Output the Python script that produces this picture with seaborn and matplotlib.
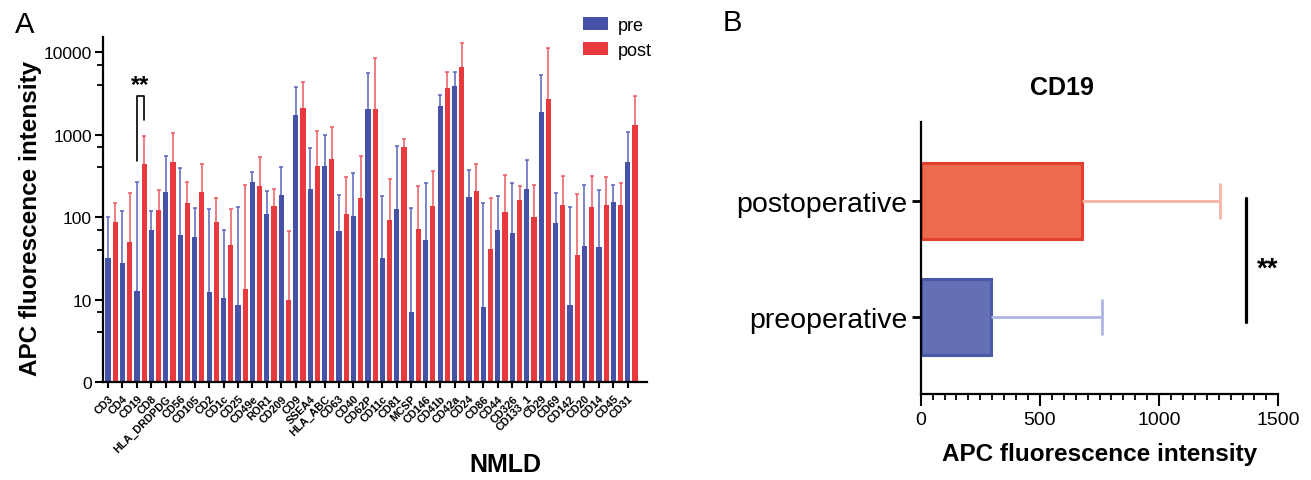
import numpy as np
import pandas as pd
import matplotlib
matplotlib.use("Agg")
import matplotlib.pyplot as plt
import seaborn as sns
from matplotlib.ticker import FixedLocator, MultipleLocator, NullFormatter
from matplotlib.patches import Patch

# ---------------- data: panel A ----------------
markers = ["CD3", "CD4", "CD19", "CD8", "HLA_DRDPDG", "CD56", "CD105", "CD2", "CD1c",
           "CD25", "CD49e", "ROR1", "CD209", "CD9", "SSEA4", "HLA_ABC", "CD63", "CD40",
           "CD62P", "CD11c", "CD81", "MCSP", "CD146", "CD41b", "CD42a", "CD24", "CD86",
           "CD44", "CD326", "CD133_1", "CD29", "CD69", "CD142", "CD20", "CD14", "CD45", "CD31"]
pre_mean = [32, 28, 12.8, 70, 199, 61, 57, 12.4, 10.5, 8.6, 268, 108, 185, 1740, 220, 415,
            67, 103, 2038, 32, 125, 7.1, 52, 2234, 3838, 173, 8.0, 70, 64, 218, 1858, 85,
            8.6, 44, 43, 153, 469]
pre_upper = [99, 117, 268, 119, 553, 390, 127, 125, 70, 133, 348, 205, 407, 3730, 686, 986,
             186, 338, 5500, 178, 719, 127, 261, 3013, 5680, 368, 148, 178, 256, 495, 5260,
             196, 131, 246, 212, 244, 1062]
post_mean = [88, 50, 439, 123, 460, 147, 199, 88, 46, 13.4, 240, 136, 10, 2095, 415, 505,
             109, 168, 2038, 92, 700, 72, 137, 3660, 6520, 208, 41, 114, 162, 99, 2692, 141,
             35, 131, 141, 141, 1303]
post_upper = [148, 196, 968, 214, 1033, 263, 439, 170, 125, 246, 537, 218, 68, 4300, 1092,
              1244, 303, 553, 8400, 289, 882, 236, 365, 5770, 12850, 439, 168, 323, 240, 246,
              11070, 311, 190, 317, 308, 256, 2952]
conditions = ["pre", "post"]
y_ticks_A = [1, 10, 100, 1000, 10000]
y_ticklabels_A = ["0", "10", "100", "1000", "10000"]

# ---------------- data: panel B ----------------
groups_B = ["postoperative", "preoperative"]
cd19_mean = [675, 295]
cd19_upper = [1257, 759]
x_ticks_B = [0, 500, 1000, 1500]

BLUE, RED = "#4652A8", "#E8393E"
BLUE_ERR, RED_ERR = "#5A64BC", "#EC5A60"
B_FILL = {"postoperative": "#EC6A4F", "preoperative": "#6470B5"}
B_EDGE = {"postoperative": "#E2402E", "preoperative": "#4A58A8"}
B_ERR = {"postoperative": "#F7B3A4", "preoperative": "#B0B6E4"}

sns.set_theme(style="ticks")
plt.rcParams["font.family"] = ["Liberation Sans", "DejaVu Sans"]
for key in ["text.color", "axes.labelcolor", "xtick.color", "ytick.color", "axes.edgecolor"]:
    plt.rcParams[key] = "black"

W, H = 1311, 481
fig = plt.figure(figsize=(W / 100, H / 100), dpi=100)


def hide_base_cap(err, base, axis):
    """Hide the cap that sits at the bar end (zero-length lower error)."""
    for cl in err[1]:
        data = cl.get_ydata() if axis == "y" else cl.get_xdata()
        if np.allclose(np.asarray(data, float), np.asarray(base, float)):
            cl.set_visible(False)


# ================= Panel A =================
axA = fig.add_axes([103 / W, 1 - 383 / H, 544 / W, 345 / H])
n = len(markers)
dfA = pd.DataFrame({
    "marker": markers * 2,
    "cond": ["pre"] * n + ["post"] * n,
    "value": pre_mean + post_mean,
})
sns.barplot(data=dfA, x="marker", y="value", hue="cond", order=markers,
            hue_order=conditions, palette={"pre": BLUE, "post": RED},
            width=1.0, gap=0.28, errorbar=None, saturation=1, linewidth=0,
            legend=False, ax=axA)
axA.set_yscale("log")

idx = np.arange(n)
for off, mean, upper, col in [(-0.25, pre_mean, pre_upper, BLUE_ERR),
                              (0.25, post_mean, post_upper, RED_ERR)]:
    mean = np.array(mean, float)
    upper = np.array(upper, float)
    err = axA.errorbar(idx + off, mean, yerr=[np.zeros(n), upper - mean], fmt="none",
                       ecolor=col, elinewidth=1.1, capsize=1.3, capthick=1.1, zorder=1)
    hide_base_cap(err, mean, "y")

axA.set_ylim(1, 15200)
axA.set_xlim(-0.6, 37.08)
axA.yaxis.set_major_locator(FixedLocator(y_ticks_A))
axA.set_yticklabels(y_ticklabels_A, fontsize=12.5)
minors = [m * 10 ** k for k in range(4) for m in (4, 7)]
axA.yaxis.set_minor_locator(FixedLocator(minors))
axA.yaxis.set_minor_formatter(NullFormatter())
axA.set_xticks(idx - 0.25)
axA.set_xticklabels(markers, rotation=45, ha="right", va="top", rotation_mode="anchor",
                    fontsize=7.8, fontweight="bold")
axA.tick_params(axis="y", which="major", length=6, width=1.5, color="black", pad=2)
axA.tick_params(axis="y", which="minor", length=4, width=1.3, color="black")
axA.tick_params(axis="x", length=4, width=1.5, color="black", pad=4)
for s in ["top", "right"]:
    axA.spines[s].set_visible(False)
for s in ["left", "bottom"]:
    axA.spines[s].set_linewidth(1.6)
    axA.spines[s].set_color("black")
axA.set_xlabel("")
axA.set_ylabel("APC fluorescence intensity", fontsize=17.5, fontweight="bold")
axA.yaxis.set_label_coords(-0.112, 0.478)

# significance bracket on CD19
c19 = markers.index("CD19")
axA.plot([c19 - 0.25, c19 - 0.25, c19 + 0.25, c19 + 0.25], [481, 2953, 2953, 1510],
         color="black", lw=1.2, clip_on=False)
axA.text(c19, 4000, "**", ha="center", va="center", fontsize=17, fontweight="bold")

# legend
handles = [Patch(facecolor=BLUE, edgecolor="none", label="pre"),
           Patch(facecolor=RED, edgecolor="none", label="post")]
fig.legend(handles=handles, loc="upper left", bbox_to_anchor=(583 / W, 1 - 18 / H),
           frameon=False, fontsize=13, handlelength=1.4, handleheight=0.75,
           handletextpad=0.5, labelspacing=0.45, borderpad=0, borderaxespad=0)

fig.text(505 / W, 1 - 465 / H, "NMLD", ha="center", va="center", fontsize=18,
         fontweight="bold")
fig.text(15 / W, 1 - 33 / H, "A", fontsize=21, va="baseline", ha="left")

# ================= Panel B =================
axB = fig.add_axes([920.7 / W, 1 - 395 / H, 357.6 / W, 272 / H])
dfB = pd.DataFrame({"group": groups_B, "value": cd19_mean})
sns.barplot(data=dfB, y="group", x="value", hue="group", order=groups_B,
            hue_order=groups_B, palette=B_FILL, width=0.656, errorbar=None,
            saturation=1, legend=False, ax=axB)
for cont, g in zip(axB.containers, groups_B):
    for p in cont:
        p.set_edgecolor(B_EDGE[g])
        p.set_linewidth(2.2)

for i, g in enumerate(groups_B):
    err = axB.errorbar([cd19_mean[i]], [i], xerr=[[0], [cd19_upper[i] - cd19_mean[i]]],
                       fmt="none", ecolor=B_ERR[g], elinewidth=2.0, capsize=13.3,
                       capthick=2.0, zorder=1)
    hide_base_cap(err, [cd19_mean[i]], "x")

axB.set_xlim(0, 1500)
axB.set_ylim(1.67, -0.687)
axB.xaxis.set_major_locator(FixedLocator(x_ticks_B))
axB.xaxis.set_minor_locator(MultipleLocator(50))
axB.tick_params(axis="x", which="major", length=8.5, width=1.5, color="black",
                labelsize=14, pad=4)
axB.tick_params(axis="x", which="minor", length=4.3, width=1.3, color="black")
axB.tick_params(axis="y", which="major", length=6.5, width=2, color="black",
                labelsize=20.5, pad=3)
for s in ["top", "right"]:
    axB.spines[s].set_visible(False)
for s in ["left", "bottom"]:
    axB.spines[s].set_linewidth(1.6)
    axB.spines[s].set_color("black")
axB.set_ylabel("")
axB.set_xlabel("")
fig.text(1100 / W, 1 - 455 / H, "APC fluorescence intensity", ha="center", va="center",
         fontsize=17.5, fontweight="bold")

axB.plot([1364, 1364], [-0.026, 1.043], color="black", lw=2.3, clip_on=False)
axB.text(1455, 0.58, "**", ha="center", va="center", fontsize=20, fontweight="bold")

fig.text(1062 / W, 1 - 88 / H, "CD19", ha="center", va="center", fontsize=18,
         fontweight="bold")
fig.text(723 / W, 1 - 31 / H, "B", fontsize=21, va="baseline", ha="left")

fig.savefig("out.png", dpi=100)
